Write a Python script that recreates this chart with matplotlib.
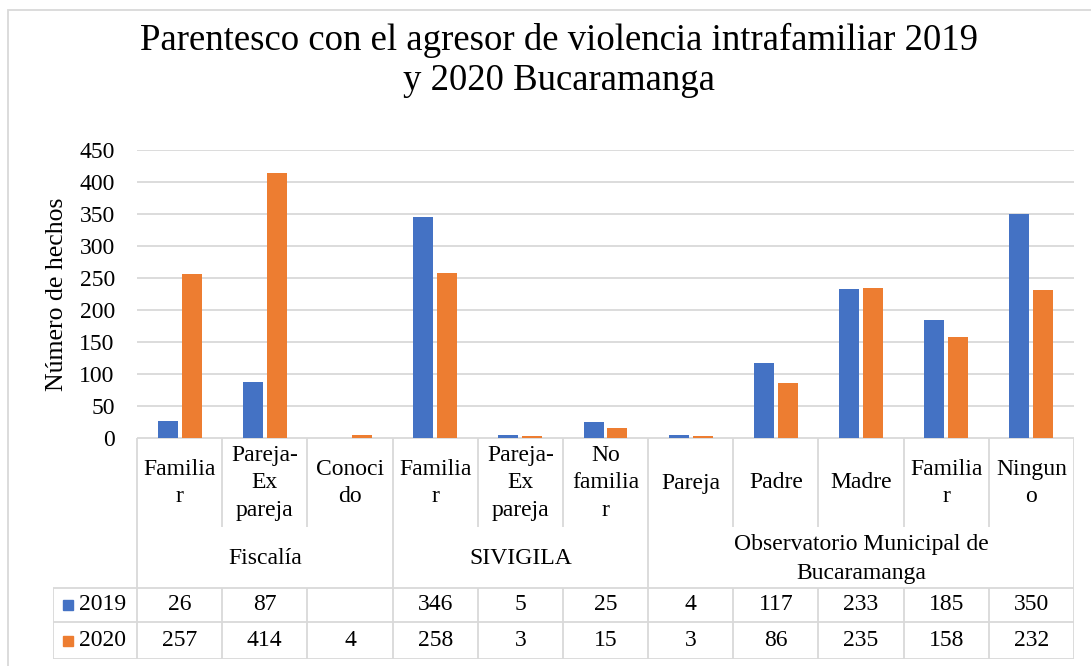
import numpy as np
import matplotlib
matplotlib.use("Agg")
import matplotlib.pyplot as plt
from matplotlib.patches import Rectangle

plt.rcParams["font.family"] = ["Liberation Serif", "DejaVu Serif"]

categories = ["Familia\nr", "Pareja-\nEx\npareja", "Conoci\ndo",
              "Familia\nr", "Pareja-\nEx\npareja", "No\nfamilia\nr",
              "Pareja", "Padre", "Madre", "Familia\nr", "Ningun\no"]
groups = ["Fiscalía", "SIVIGILA", "Observatorio Municipal de\nBucaramanga"]
group_sizes = [3, 3, 5]
series_names = ["2019", "2020"]
values_2019 = [26, 87, np.nan, 346, 5, 25, 4, 117, 233, 185, 350]
values_2020 = [257, 414, 4, 258, 3, 15, 3, 86, 235, 158, 232]
y_ticks = [0, 50, 100, 150, 200, 250, 300, 350, 400, 450]

colors = ["#4472C4", "#ED7D31"]
grid_c = "#D9D9D9"
W, H = 1091, 666

fig = plt.figure(figsize=(W / 100, H / 100), dpi=100)

# outer chart frame
fig.add_artist(Rectangle((8 / W, -0.1), 1.2, (H - 10) / H + 0.1, transform=fig.transFigure,
                         fill=False, edgecolor=grid_c, lw=1.3))

# main plot area
x0, x1, ytop, ybot = 137, 1074, 150, 438
ax = fig.add_axes([x0 / W, (H - ybot) / H, (x1 - x0) / W, (ybot - ytop) / H])
n = len(categories)
x = np.arange(n)
bw = 0.235
ax.bar(x - 0.14, values_2019, bw, color=colors[0], zorder=3)
ax.bar(x + 0.14, values_2020, bw, color=colors[1], zorder=3)
ax.set_xlim(-0.5, n - 0.5)
ax.set_ylim(0, 450)
ax.set_yticks(y_ticks)
ax.tick_params(axis="y", length=0, labelsize=17, pad=16)
ax.set_xticks([])
ax.grid(axis="y", color=grid_c, lw=1.3, zorder=0)
for s in ax.spines.values():
    s.set_visible(False)
ax.set_ylabel("Número de hechos", fontsize=18.5, labelpad=8)

fig.text(559 / W, 1 - 40 / H, "Parentesco con el agresor de violencia intrafamiliar 2019",
         ha="center", va="center", fontsize=26.5)
fig.text(559 / W, 1 - 81 / H, "y 2020 Bucaramanga", ha="center", va="center", fontsize=26.5)

# data table underneath
tleft, tbot = 53, 659
cat_w = (x1 - x0) / n
tx = fig.add_axes([tleft / W, (H - tbot) / H, (x1 - tleft) / W, (tbot - ybot) / H])
xl = -0.5 - (x0 - tleft) / cat_w
tx.set_xlim(xl, n - 0.5)
tx.set_ylim(tbot - ybot, 0)
tx.axis("off")
r_cat, r_grp, r_a, r_b = 89, 150, 184, tbot - ybot
lk = dict(color=grid_c, lw=1.3, solid_capstyle="butt")

tx.plot([-0.5, n - 0.5], [0, 0], **lk)
tx.plot([-0.5, -0.5], [0, r_b], **lk)
tx.plot([n - 0.5, n - 0.5], [0, r_b], **lk)
tx.plot([xl, xl], [r_grp, r_b], **lk)
for yy in [r_grp, r_a, r_b]:
    tx.plot([xl, n - 0.5], [yy, yy], **lk)
bounds = np.cumsum(group_sizes)[:-1] - 0.5
for k in range(n - 1):
    xs = k + 0.5
    if xs in bounds:
        tx.plot([xs, xs], [0, r_b], **lk)
    else:
        tx.plot([xs, xs], [0, r_cat], **lk)
        tx.plot([xs, xs], [r_grp, r_b], **lk)

fs = 17
for i, lab in enumerate(categories):
    tx.text(i, 45, lab, ha="center", va="center", fontsize=fs, linespacing=1.38)
start = 0
for g, sz in zip(groups, group_sizes):
    tx.text(start + sz / 2 - 0.5, 121, g, ha="center", va="center",
            fontsize=fs, linespacing=1.45)
    start += sz

for row, (name, vals, c) in enumerate(zip(series_names, [values_2019, values_2020], colors)):
    yc = [(r_grp + r_a) / 2, (r_a + r_b) / 2][row]
    tx.add_patch(Rectangle((xl + 0.12, yc - 5), 0.12, 10, color=c, clip_on=False))
    tx.text(xl + 0.3, yc, name, ha="left", va="center", fontsize=fs)
    for i, v in enumerate(vals):
        s = "" if np.isnan(v) else f"{int(v)}"
        tx.text(i, yc, s, ha="center", va="center", fontsize=fs)

fig.savefig("out.png", dpi=100)
